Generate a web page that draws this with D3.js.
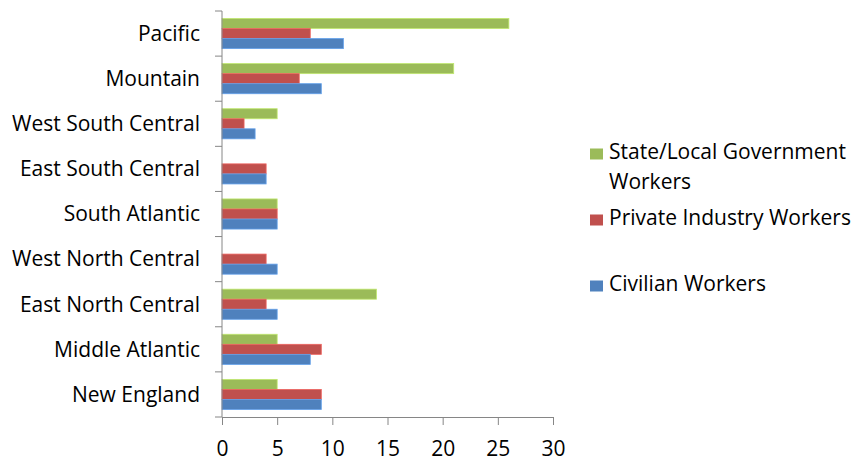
<!DOCTYPE html>
<html>
<head>
<meta charset="utf-8">
<script src="https://cdn.jsdelivr.net/npm/d3@7"></script>
<style>
  html, body { margin: 0; padding: 0; background: #fff; }
  svg { display: block; }
  text { font-family: "Open Sans", sans-serif; fill: #000; }
</style>
</head>
<body>
<svg id="chart" width="855" height="462"></svg>
<script>
// Regions, listed top to bottom
const regions = [
  "Pacific", "Mountain", "West South Central", "East South Central",
  "South Atlantic", "West North Central", "East North Central",
  "Middle Atlantic", "New England"
];
// Series values per region (same order as regions)
const stateLocal = [26, 21, 5, 0, 5, 0, 14, 5, 5];
const privateIndustry = [8, 7, 2, 4, 5, 4, 4, 9, 9];
const civilian = [11, 9, 3, 4, 5, 5, 5, 8, 9];

const seriesNames = ["State/Local Government Workers", "Private Industry Workers", "Civilian Workers"];
const seriesColors = ["#9BBB59", "#C0504D", "#4F81BD"];
const seriesValues = [stateLocal, privateIndustry, civilian];
const xTicks = [0, 5, 10, 15, 20, 25, 30];

const FONT = "'Open Sans', sans-serif";
const FS = 21;

const svg = d3.select("#chart");
const plot = { left: 222, right: 553, top: 11, bottom: 417 };

const x = d3.scaleLinear().domain([0, 30]).range([plot.left, plot.right]);
const y0 = d3.scaleBand().domain(regions).range([plot.top, plot.bottom]).padding(0);
const step = y0.bandwidth();
const y1 = d3.scaleBand().domain(seriesNames).range([step * 0.166, step * 0.834]).padding(0);

// Bars
const groups = svg.append("g").selectAll("g")
  .data(regions)
  .join("g")
  .attr("transform", d => `translate(0,${y0(d)})`);

groups.selectAll("rect")
  .data((r, i) => seriesNames.map((s, k) => ({ s, k, v: seriesValues[k][i] })))
  .join("rect")
  .filter(d => d.v > 0)
  .attr("x", x(0))
  .attr("y", d => y1(d.s))
  .attr("width", d => x(d.v) - x(0))
  .attr("height", y1.bandwidth())
  .attr("fill", d => seriesColors[d.k])
  .attr("stroke", d => d3.color(seriesColors[d.k]).brighter(0.6))
  .attr("stroke-width", 0.8);

// Category axis
const axisColor = "#868686";
svg.append("line")
  .attr("x1", plot.left).attr("x2", plot.left)
  .attr("y1", plot.top).attr("y2", plot.bottom)
  .attr("stroke", axisColor).attr("stroke-width", 1);
const boundaries = regions.map(r => y0(r)).concat([plot.bottom]);
svg.append("g").selectAll("line")
  .data(boundaries)
  .join("line")
  .attr("x1", plot.left - 7).attr("x2", plot.left)
  .attr("y1", d => d).attr("y2", d => d)
  .attr("stroke", axisColor).attr("stroke-width", 1);

svg.append("g").selectAll("text")
  .data(regions)
  .join("text")
  .attr("x", 200)
  .attr("y", d => y0(d) + step / 2)
  .attr("dy", "0.35em")
  .attr("text-anchor", "end")
  .attr("font-size", FS)
  .text(d => d);

// Value axis
const xAxis = d3.axisBottom(x).tickValues(xTicks).tickSize(8).tickSizeOuter(0);
const xg = svg.append("g")
  .attr("transform", `translate(0,${plot.bottom})`)
  .call(xAxis);
xg.select(".domain").attr("stroke", axisColor);
xg.selectAll(".tick line").attr("stroke", axisColor);
xg.selectAll(".tick text")
  .attr("font-family", FONT)
  .attr("font-size", FS)
  .attr("fill", "#000")
  .attr("y", 24)
  .attr("dy", "0.71em");

// Legend (baselines of each text line)
const legendItems = [
  { lines: ["State/Local Government", "Workers"], color: seriesColors[0], base: 159 },
  { lines: ["Private Industry Workers"], color: seriesColors[1], base: 225 },
  { lines: ["Civilian Workers"], color: seriesColors[2], base: 291 }
];
const legend = svg.append("g");
legendItems.forEach(item => {
  legend.append("rect")
    .attr("x", 590).attr("y", item.base - 10.5)
    .attr("width", 13).attr("height", 11)
    .attr("fill", item.color);
  item.lines.forEach((ln, j) => {
    legend.append("text")
      .attr("x", 609)
      .attr("y", item.base + j * 30)
      .attr("font-size", FS)
      .text(ln);
  });
});
</script>
</body>
</html>
